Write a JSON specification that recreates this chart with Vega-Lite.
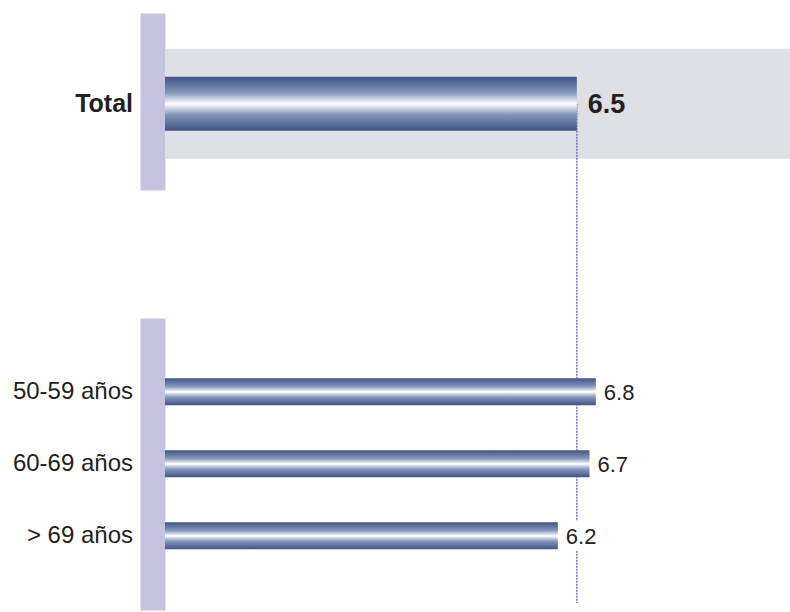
{
  "$schema": "https://vega.github.io/schema/vega-lite/v6.json",
  "width": 625,
  "height": 597,
  "autosize": {"type": "none"},
  "padding": {"left": 165, "top": 13, "right": 0, "bottom": 2},
  "background": "#ffffff",
  "config": {"view": {"stroke": null}, "font": "Liberation Sans"},
  "data": {
    "values": [
      {"cat": "Total", "value": 6.5},
      {"cat": "50-59 años", "value": 6.8},
      {"cat": "60-69 años", "value": 6.7},
      {"cat": "> 69 años", "value": 6.2}
    ]
  },
  "encoding": {
    "y": {
      "field": "cat",
      "type": "nominal",
      "sort": null,
      "scale": {
        "domain": ["Total", " ", "  ", "   ", "50-59 años", "60-69 años", "> 69 años"],
        "paddingInner": 0,
        "paddingOuter": 0.645,
        "align": 0.589
      },
      "axis": {
        "title": null,
        "domainColor": "#c5c3df",
        "domainWidth": 25,
        "domainDash": [177, 128, 292],
        "offset": 12.5,
        "ticks": false,
        "tickSize": 0,
        "labelPadding": 20,
        "labelFont": "Liberation Sans",
        "labelFontSize": {"condition": {"test": "datum.value == 'Total'", "value": 25}, "value": 24},
        "labelColor": "#231f20",
        "labelLimit": 300,
        "labelFontWeight": {"condition": {"test": "datum.value == 'Total'", "value": "bold"}, "value": "normal"}
      }
    }
  },
  "layer": [
    {
      "transform": [{"filter": "datum.cat == 'Total'"}],
      "mark": {"type": "bar", "color": "#dfdfe6", "height": 110},
      "encoding": {
        "x": {"datum": 0, "type": "quantitative", "scale": {"domain": [0, 9.864], "nice": false, "zero": true}, "axis": null},
        "x2": {"value": "width"}
      }
    },
    {
      "transform": [{"filter": "datum.cat == 'Total'"}],
      "mark": {"type": "rule", "stroke": "#7b74c2", "strokeWidth": 1.5, "strokeDash": [2, 1], "y2Offset": -7},
      "encoding": {
        "x": {"field": "value", "type": "quantitative"},
        "y2": {"value": "height"}
      }
    },
    {
      "transform": [{"filter": "datum.cat != 'Total'"}],
      "mark": {"type": "bar", "color": "#ffffff", "height": 30, "x2Offset": 40},
      "encoding": {
        "x": {"field": "value", "type": "quantitative"},
        "x2": {"field": "value"}
      }
    },
    {
      "transform": [{"filter": "datum.cat == 'Total'"}],
      "mark": {
        "type": "bar",
        "height": 54,
        "color": {
          "gradient": "linear", "x1": 0, "y1": 0, "x2": 0, "y2": 1,
          "stops": [
            {"offset": 0, "color": "#3f5485"},
            {"offset": 0.3, "color": "#8596bb"},
            {"offset": 0.5, "color": "#ffffff"},
            {"offset": 0.7, "color": "#8596bb"},
            {"offset": 1, "color": "#3f5485"}
          ]
        }
      },
      "encoding": {"x": {"field": "value", "type": "quantitative"}}
    },
    {
      "transform": [{"filter": "datum.cat != 'Total'"}],
      "mark": {
        "type": "bar",
        "height": 27,
        "color": {
          "gradient": "linear", "x1": 0, "y1": 0, "x2": 0, "y2": 1,
          "stops": [
            {"offset": 0, "color": "#3f5485"},
            {"offset": 0.3, "color": "#8596bb"},
            {"offset": 0.5, "color": "#ffffff"},
            {"offset": 0.7, "color": "#8596bb"},
            {"offset": 1, "color": "#3f5485"}
          ]
        }
      },
      "encoding": {"x": {"field": "value", "type": "quantitative"}}
    },
    {
      "transform": [{"filter": "datum.cat == 'Total'"}],
      "mark": {"type": "text", "align": "left", "baseline": "middle", "dx": 11, "dy": 1, "fontSize": 27, "fontWeight": "bold", "color": "#231f20", "font": "Liberation Sans"},
      "encoding": {
        "x": {"field": "value", "type": "quantitative"},
        "text": {"field": "value", "type": "quantitative", "format": ".1f"}
      }
    },
    {
      "transform": [{"filter": "datum.cat != 'Total'"}],
      "mark": {"type": "text", "align": "left", "baseline": "middle", "dx": 8, "dy": 1, "fontSize": 22, "color": "#231f20", "font": "Liberation Sans"},
      "encoding": {
        "x": {"field": "value", "type": "quantitative"},
        "text": {"field": "value", "type": "quantitative", "format": ".1f"}
      }
    }
  ]
}
